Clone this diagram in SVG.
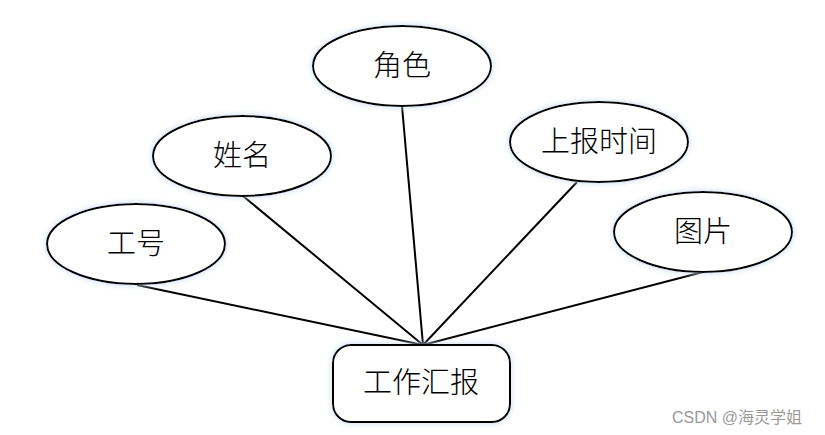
<svg xmlns="http://www.w3.org/2000/svg" width="825" height="435" viewBox="0 0 825 435">
<style>
.n{fill:#fff;stroke:#000;stroke-width:2;filter:url(#glow)}
.t{font-family:"Liberation Serif","Noto Sans CJK SC",serif;font-size:29px;font-weight:300;fill:#000;text-anchor:middle;dominant-baseline:central}
.c{stroke:#000;stroke-width:2;fill:none}
.w{font-family:"Liberation Sans","Noto Sans CJK SC",sans-serif;font-size:16px;fill:#999}
</style>
<defs>
<filter id="glow" x="-20%" y="-30%" width="140%" height="160%">
<feGaussianBlur in="SourceAlpha" stdDeviation="3" result="b"/>
<feFlood flood-color="#c8d8f0" result="f"/>
<feComposite in="f" in2="b" operator="in" result="s"/>
<feMerge><feMergeNode in="s"/><feMergeNode in="SourceGraphic"/></feMerge>
</filter>
</defs>
<rect width="825" height="435" fill="#fff"/>
<g id="connectors">
<line class="c" x1="137" y1="285" x2="423" y2="345"/>
<line class="c" x1="243" y1="196" x2="423" y2="345"/>
<line class="c" x1="402" y1="106" x2="423" y2="345"/>
<line class="c" x1="577" y1="182" x2="423" y2="345"/>
<line class="c" x1="703" y1="272" x2="423" y2="345"/>
</g>
<g id="gonghao"><ellipse class="n" cx="136" cy="244" rx="89" ry="40"/><text class="t" x="136" y="244">工号</text></g>
<g id="xingming"><ellipse class="n" cx="242" cy="156" rx="89" ry="40"/><text class="t" x="242" y="156">姓名</text></g>
<g id="juese"><ellipse class="n" cx="402" cy="66" rx="89" ry="40"/><text class="t" x="402" y="66">角色</text></g>
<g id="shangbaoshijian"><ellipse class="n" cx="599" cy="142" rx="89" ry="40"/><text class="t" x="599" y="142">上报时间</text></g>
<g id="tupian"><ellipse class="n" cx="703" cy="232" rx="89" ry="40"/><text class="t" x="703" y="232">图片</text></g>
<g id="gongzuohuibao"><rect class="n" x="333" y="345" width="177" height="77" rx="18"/><text class="t" x="421" y="383">工作汇报</text></g>
<text class="w" x="672" y="423">CSDN @海灵学姐</text>
</svg>
